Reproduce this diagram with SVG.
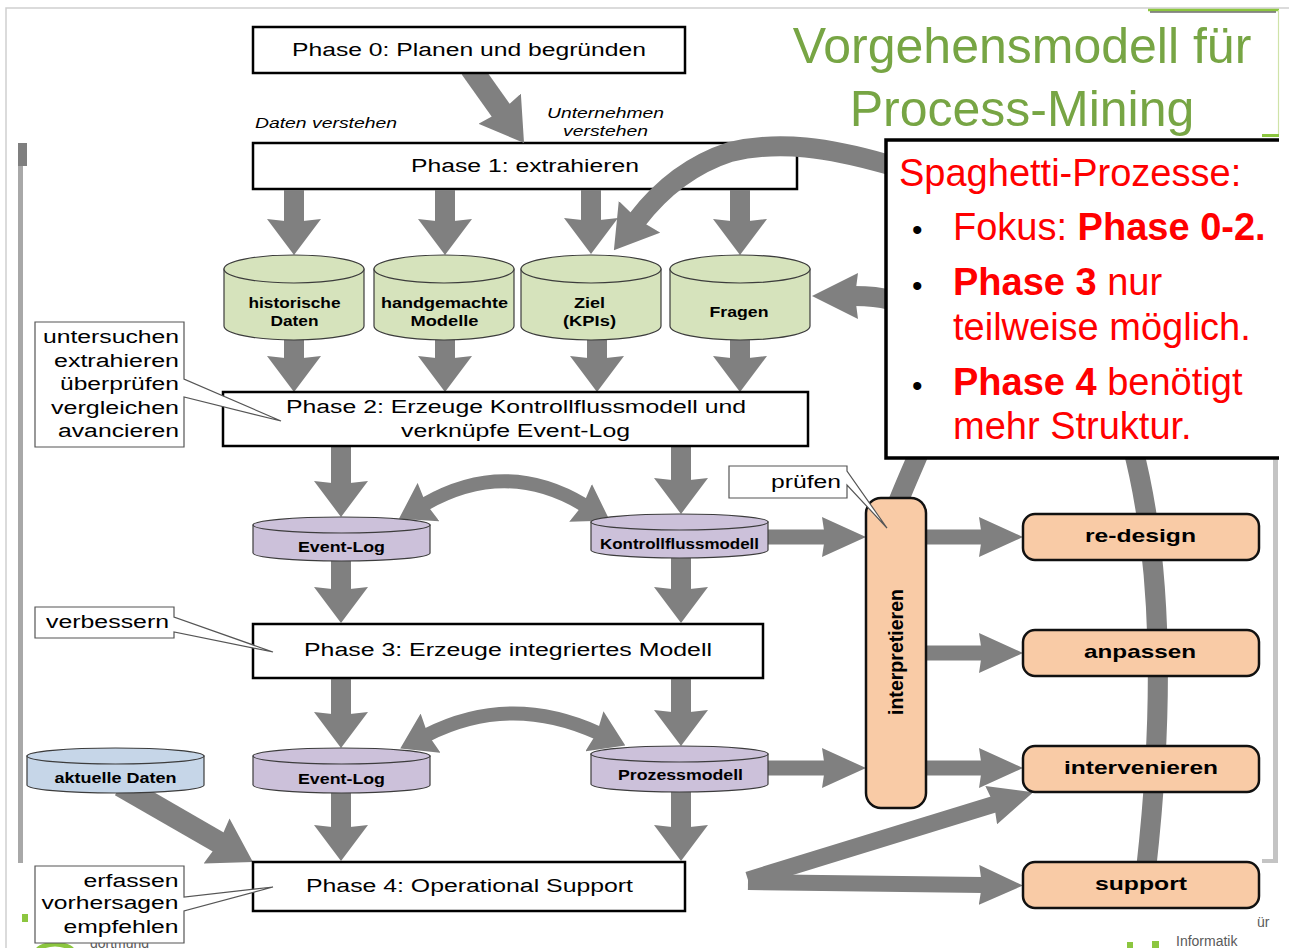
<svg xmlns="http://www.w3.org/2000/svg" width="1289" height="948" viewBox="0 0 1289 948">
  <style>
    text { font-family: "Liberation Sans", Arial, sans-serif; fill: #000; }
    .ph { font-size: 18px; }
    .cl { font-size: 15.5px; font-weight: bold; }
    .rb { font-size: 19px; font-weight: bold; }
    .co { font-size: 18px; }
    .it { font-size: 14.5px; font-style: italic; }
    .box { fill: #fff; stroke: #000; stroke-width: 2.5; }
    .act { fill: #f9cba6; stroke: #111; stroke-width: 2.5; }
    .cyl { stroke: #3c3c3c; stroke-width: 1.2; }
    .green { fill: #d6e3bc; }
    .lilac { fill: #ccc1da; }
    .blue { fill: #c6d6e8; }
    .note { fill: #fff; stroke: #555; stroke-width: 1.2; }
    .arr { fill: none; stroke: #808080; stroke-linecap: butt; }
    .red { fill: #ff0000; font-size: 38px; }
    .bullet { fill: #000; font-size: 30px; }
    .title { fill: #77a544; font-size: 50px; }
    .foot { fill: #5a5a5a; font-size: 14px; }
  </style>
  <defs>
    <marker id="av" markerUnits="userSpaceOnUse" markerWidth="36" markerHeight="54" viewBox="0 0 36 54" refX="4" refY="27" orient="auto">
      <path d="M0,0 L36,27 L0,54 L3,27 Z" fill="#808080"/>
    </marker>
    <marker id="ah" markerUnits="userSpaceOnUse" markerWidth="44" markerHeight="40" viewBox="0 0 44 40" refX="4" refY="20" orient="auto">
      <path d="M0,0 L44,20 L0,40 L3,20 Z" fill="#808080"/>
    </marker>
    <marker id="ad" markerUnits="userSpaceOnUse" markerWidth="42" markerHeight="52" viewBox="0 0 42 52" refX="4" refY="26" orient="auto">
      <path d="M0,0 L42,26 L0,52 L3,26 Z" fill="#808080"/>
    </marker>
    <marker id="ab" markerUnits="userSpaceOnUse" markerWidth="46" markerHeight="46" viewBox="0 0 46 46" refX="4" refY="23" orient="auto">
      <path d="M0,0 L46,23 L0,46 L3,23 Z" fill="#808080"/>
    </marker>
    <marker id="ac" markerUnits="userSpaceOnUse" markerWidth="34" markerHeight="44" viewBox="0 0 34 44" refX="4" refY="22" orient="auto-start-reverse">
      <path d="M0,0 L34,22 L0,44 L3,22 Z" fill="#808080"/>
    </marker>
  </defs>

  <rect width="1289" height="948" fill="#fff"/>

  <!-- page edge and figure frame -->
  <g id="frame">
    <path d="M6 948 V8 H1289" fill="none" stroke="#cfcfcf" stroke-width="1.5"/>
    <rect x="18" y="143" width="5" height="720" fill="#a8a8a8"/>
    <rect x="18" y="143" width="9" height="23" fill="#7f7f7f"/>
    <rect x="1273" y="458" width="5" height="405" fill="#c4c4c4"/>
    <rect x="1262" y="859" width="16" height="4" fill="#c4c4c4"/>
  </g>

  <!-- slide footer remnants -->
  <g id="footer">
    <rect x="22" y="914" width="6" height="8" fill="#8cc63f"/>
    <ellipse cx="55" cy="956" rx="20" ry="12" fill="none" stroke="#8cc63f" stroke-width="5"/>
    <text class="foot" x="90" y="947.5" font-size="9">dortmund</text>
    <text class="foot" x="1257" y="927" font-size="16">ür</text>
    <text class="foot" x="1176" y="946">Informatik</text>
    <rect x="1127" y="942" width="6" height="6" fill="#8cc63f"/>
    <rect x="1152" y="941" width="7" height="7" fill="#8cc63f"/>
  </g>

  <!-- Phase 1 sits below the return arc -->
  <g id="phase1">
    <rect class="box" x="253" y="143" width="544" height="46"/>
    <text class="ph" x="525" y="172" text-anchor="middle" textLength="228" lengthAdjust="spacingAndGlyphs">Phase 1: extrahieren</text>
  </g>

  <g id="connectors">
    <!-- Phase 0 to Phase 1 -->
    <line class="arr" x1="470.7" y1="68" x2="502" y2="112" stroke-width="22" marker-end="url(#ad)"/>
    <!-- Phase 1 to data stores -->
    <line class="arr" x1="294" y1="190" x2="294" y2="223" stroke-width="20" marker-end="url(#av)"/>
    <line class="arr" x1="445" y1="190" x2="445" y2="223" stroke-width="20" marker-end="url(#av)"/>
    <line class="arr" x1="591" y1="190" x2="591" y2="222" stroke-width="20" marker-end="url(#av)"/>
    <line class="arr" x1="740" y1="190" x2="740" y2="223" stroke-width="20" marker-end="url(#av)"/>
    <!-- data stores to Phase 2 -->
    <line class="arr" x1="294" y1="335" x2="294" y2="360" stroke-width="20" marker-end="url(#av)"/>
    <line class="arr" x1="445" y1="335" x2="445" y2="360" stroke-width="20" marker-end="url(#av)"/>
    <line class="arr" x1="597" y1="335" x2="597" y2="360" stroke-width="20" marker-end="url(#av)"/>
    <line class="arr" x1="740" y1="335" x2="740" y2="360" stroke-width="20" marker-end="url(#av)"/>
    <!-- Phase 2 outputs -->
    <line class="arr" x1="341" y1="447" x2="341" y2="485" stroke-width="20" marker-end="url(#av)"/>
    <line class="arr" x1="681" y1="447" x2="681" y2="482" stroke-width="20" marker-end="url(#av)"/>
    <path class="arr" d="M425 504 Q506 458 584 505" stroke-width="14" marker-start="url(#ac)" marker-end="url(#ac)"/>
    <!-- into Phase 3 -->
    <line class="arr" x1="341" y1="555" x2="341" y2="591" stroke-width="20" marker-end="url(#av)"/>
    <line class="arr" x1="681" y1="552" x2="681" y2="591" stroke-width="20" marker-end="url(#av)"/>
    <!-- Phase 3 outputs -->
    <line class="arr" x1="341" y1="679" x2="341" y2="716" stroke-width="20" marker-end="url(#av)"/>
    <line class="arr" x1="681" y1="679" x2="681" y2="714" stroke-width="20" marker-end="url(#av)"/>
    <path class="arr" d="M427 735 Q510 693 598 733" stroke-width="14" marker-start="url(#ac)" marker-end="url(#ac)"/>
    <!-- into Phase 4 -->
    <line class="arr" x1="120.4" y1="785.6" x2="220" y2="843" stroke-width="22" marker-end="url(#ad)"/>
    <line class="arr" x1="341" y1="788" x2="341" y2="829" stroke-width="20" marker-end="url(#av)"/>
    <line class="arr" x1="681" y1="785" x2="681" y2="829" stroke-width="20" marker-end="url(#av)"/>
    <!-- models to interpretation -->
    <line class="arr" x1="760" y1="537" x2="826" y2="537" stroke-width="15" marker-end="url(#ah)"/>
    <line class="arr" x1="760" y1="768" x2="826" y2="768" stroke-width="15" marker-end="url(#ah)"/>
    <!-- interpretation to actions -->
    <line class="arr" x1="920" y1="537" x2="983" y2="537" stroke-width="15" marker-end="url(#ah)"/>
    <line class="arr" x1="920" y1="653" x2="983" y2="653" stroke-width="15" marker-end="url(#ah)"/>
    <line class="arr" x1="920" y1="768" x2="983" y2="768" stroke-width="15" marker-end="url(#ah)"/>
    <!-- operational support outputs -->
    <line class="arr" x1="748" y1="882" x2="983" y2="885" stroke-width="16" marker-end="url(#ah)"/>
    <line class="arr" x1="748" y1="880" x2="995" y2="804" stroke-width="17" marker-end="url(#ah)"/>
    <!-- feedback loops -->
    <path class="arr" d="M1146 870 C1172 640 1160 420 1060 290 C1000 215 940 180 886 164 C830 148 780 140 730 152 C690 165 660 190 637 220" stroke-width="20" marker-end="url(#ad)"/>
    <path class="arr" d="M897 505 C930 420 990 330 890 300 C880 297 866 296 854 296" stroke-width="20" marker-end="url(#ab)"/>
  </g>

  <g id="phase0">
    <rect class="box" x="253" y="27" width="432" height="46"/>
    <text class="ph" x="469" y="56" text-anchor="middle" textLength="354" lengthAdjust="spacingAndGlyphs">Phase 0: Planen und begründen</text>
  </g>

  <g id="labels-understand">
    <text class="it" x="255" y="128" textLength="142" lengthAdjust="spacingAndGlyphs">Daten verstehen</text>
    <text class="it" x="605.5" y="118" text-anchor="middle" textLength="117" lengthAdjust="spacingAndGlyphs">Unternehmen</text>
    <text class="it" x="605.5" y="136" text-anchor="middle" textLength="85" lengthAdjust="spacingAndGlyphs">verstehen</text>
  </g>

  <!-- input data stores -->
  <g id="store-historische-daten">
    <path class="cyl green" d="M224 269 V326 A70 14 0 0 0 364 326 V269 Z"/>
    <ellipse class="cyl green" cx="294" cy="269" rx="70" ry="14"/>
    <text class="cl" x="294.5" y="308" text-anchor="middle" textLength="92" lengthAdjust="spacingAndGlyphs">historische</text>
    <text class="cl" x="294.5" y="326" text-anchor="middle" textLength="48" lengthAdjust="spacingAndGlyphs">Daten</text>
  </g>
  <g id="store-modelle">
    <path class="cyl green" d="M374 269 V326 A70 14 0 0 0 514 326 V269 Z"/>
    <ellipse class="cyl green" cx="444" cy="269" rx="70" ry="14"/>
    <text class="cl" x="444.5" y="308" text-anchor="middle" textLength="127" lengthAdjust="spacingAndGlyphs">handgemachte</text>
    <text class="cl" x="444.5" y="326" text-anchor="middle" textLength="68" lengthAdjust="spacingAndGlyphs">Modelle</text>
  </g>
  <g id="store-ziel">
    <path class="cyl green" d="M521 269 V326 A70 14 0 0 0 661 326 V269 Z"/>
    <ellipse class="cyl green" cx="591" cy="269" rx="70" ry="14"/>
    <text class="cl" x="589.5" y="308" text-anchor="middle" textLength="31" lengthAdjust="spacingAndGlyphs">Ziel</text>
    <text class="cl" x="589.5" y="326" text-anchor="middle" textLength="53" lengthAdjust="spacingAndGlyphs">(KPIs)</text>
  </g>
  <g id="store-fragen">
    <path class="cyl green" d="M670 269 V326 A70 14 0 0 0 810 326 V269 Z"/>
    <ellipse class="cyl green" cx="740" cy="269" rx="70" ry="14"/>
    <text class="cl" x="739" y="317" text-anchor="middle" textLength="59" lengthAdjust="spacingAndGlyphs">Fragen</text>
  </g>

  <g id="phase2">
    <rect class="box" x="223" y="392" width="585" height="54"/>
    <text class="ph" x="516" y="413" text-anchor="middle" textLength="460" lengthAdjust="spacingAndGlyphs">Phase 2: Erzeuge Kontrollflussmodell und</text>
    <text class="ph" x="515.5" y="437" text-anchor="middle" textLength="229" lengthAdjust="spacingAndGlyphs">verknüpfe Event-Log</text>
  </g>

  <g id="store-event-log-1">
    <path class="cyl lilac" d="M253 525 V553 A88.5 8 0 0 0 430 553 V525 Z"/>
    <ellipse class="cyl lilac" cx="341.5" cy="525" rx="88.5" ry="8"/>
    <text class="cl" x="341.5" y="552" text-anchor="middle" textLength="87" lengthAdjust="spacingAndGlyphs">Event-Log</text>
  </g>
  <g id="store-kontrollflussmodell">
    <path class="cyl lilac" d="M591 522 V550 A88.5 8 0 0 0 768 550 V522 Z"/>
    <ellipse class="cyl lilac" cx="679.5" cy="522" rx="88.5" ry="8"/>
    <text class="cl" x="679.5" y="549" text-anchor="middle" textLength="159" lengthAdjust="spacingAndGlyphs">Kontrollflussmodell</text>
  </g>

  <g id="phase3">
    <rect class="box" x="253" y="624" width="510" height="54"/>
    <text class="ph" x="508" y="656" text-anchor="middle" textLength="408" lengthAdjust="spacingAndGlyphs">Phase 3: Erzeuge integriertes Modell</text>
  </g>

  <g id="store-aktuelle-daten">
    <path class="cyl blue" d="M27 756 V785 A88.5 8 0 0 0 204 785 V756 Z"/>
    <ellipse class="cyl blue" cx="115.5" cy="756" rx="88.5" ry="8"/>
    <text class="cl" x="115.5" y="783" text-anchor="middle" textLength="122" lengthAdjust="spacingAndGlyphs">aktuelle Daten</text>
  </g>
  <g id="store-event-log-2">
    <path class="cyl lilac" d="M253 756 V785 A88.5 8 0 0 0 430 785 V756 Z"/>
    <ellipse class="cyl lilac" cx="341.5" cy="756" rx="88.5" ry="8"/>
    <text class="cl" x="341.5" y="783.5" text-anchor="middle" textLength="87" lengthAdjust="spacingAndGlyphs">Event-Log</text>
  </g>
  <g id="store-prozessmodell">
    <path class="cyl lilac" d="M591 754 V784 A88.5 8 0 0 0 768 784 V754 Z"/>
    <ellipse class="cyl lilac" cx="679.5" cy="754" rx="88.5" ry="8"/>
    <text class="cl" x="680.5" y="780" text-anchor="middle" textLength="125" lengthAdjust="spacingAndGlyphs">Prozessmodell</text>
  </g>

  <g id="phase4">
    <rect class="box" x="253" y="862" width="432" height="49"/>
    <text class="ph" x="469.5" y="892" text-anchor="middle" textLength="327" lengthAdjust="spacingAndGlyphs">Phase 4: Operational Support</text>
  </g>

  <g id="interpretieren">
    <rect class="act" x="866" y="498" width="60" height="310" rx="15"/>
    <text transform="translate(903 652) rotate(-90)" font-size="21" font-weight="bold" text-anchor="middle" textLength="126" lengthAdjust="spacingAndGlyphs">interpretieren</text>
  </g>

  <g id="re-design">
    <rect class="act" x="1023" y="514" width="236" height="46" rx="12"/>
    <text class="rb" x="1140.5" y="542" text-anchor="middle" textLength="111" lengthAdjust="spacingAndGlyphs">re-design</text>
  </g>
  <g id="anpassen">
    <rect class="act" x="1023" y="630" width="236" height="46" rx="12"/>
    <text class="rb" x="1140" y="658" text-anchor="middle" textLength="112" lengthAdjust="spacingAndGlyphs">anpassen</text>
  </g>
  <g id="intervenieren">
    <rect class="act" x="1023" y="746" width="236" height="46" rx="12"/>
    <text class="rb" x="1141" y="774" text-anchor="middle" textLength="154" lengthAdjust="spacingAndGlyphs">intervenieren</text>
  </g>
  <g id="support">
    <rect class="act" x="1023" y="862" width="236" height="46" rx="12"/>
    <text class="rb" x="1141" y="890" text-anchor="middle" textLength="92" lengthAdjust="spacingAndGlyphs">support</text>
  </g>

  <!-- callouts -->
  <g id="note-phase2">
    <path class="note" d="M35 322 H184 V379 L281 421 L184 397 V447 H35 Z"/>
    <text class="co" x="179" y="343" text-anchor="end" textLength="136" lengthAdjust="spacingAndGlyphs">untersuchen</text>
    <text class="co" x="179" y="366.5" text-anchor="end" textLength="125" lengthAdjust="spacingAndGlyphs">extrahieren</text>
    <text class="co" x="179" y="390" text-anchor="end" textLength="119" lengthAdjust="spacingAndGlyphs">überprüfen</text>
    <text class="co" x="179" y="413.5" text-anchor="end" textLength="128" lengthAdjust="spacingAndGlyphs">vergleichen</text>
    <text class="co" x="179" y="437" text-anchor="end" textLength="121" lengthAdjust="spacingAndGlyphs">avancieren</text>
  </g>
  <g id="note-phase3">
    <path class="note" d="M35 607 H174 V617 L273 652 L174 632 V638 H35 Z"/>
    <text class="co" x="169" y="628" text-anchor="end" textLength="123" lengthAdjust="spacingAndGlyphs">verbessern</text>
  </g>
  <g id="note-phase4">
    <path class="note" d="M35 866 H184 V897 L273 887 L184 911 V943 H35 Z"/>
    <text class="co" x="178.5" y="887" text-anchor="end" textLength="95" lengthAdjust="spacingAndGlyphs">erfassen</text>
    <text class="co" x="178.5" y="908.5" text-anchor="end" textLength="137" lengthAdjust="spacingAndGlyphs">vorhersagen</text>
    <text class="co" x="178.5" y="932.5" text-anchor="end" textLength="115" lengthAdjust="spacingAndGlyphs">empfehlen</text>
  </g>
  <g id="note-pruefen">
    <path class="note" d="M729 466 H847 V471 L887 528 L847 485 V498 H729 Z"/>
    <text class="co" x="841" y="488" text-anchor="end" textLength="70" lengthAdjust="spacingAndGlyphs">prüfen</text>
  </g>

  <!-- remark box -->
  <g id="spaghetti">
    <rect x="886" y="140" width="393" height="318" fill="#fff"/>
    <path d="M1279 140 H886 V458 H1279" fill="none" stroke="#000" stroke-width="3.5"/>
    <text class="red" x="899" y="186">Spaghetti-Prozesse:</text>
    <text class="bullet" x="912" y="240">•</text>
    <text class="red" x="953" y="240">Fokus: <tspan font-weight="bold">Phase 0-2.</tspan></text>
    <text class="bullet" x="912" y="296">•</text>
    <text class="red" x="953" y="295"><tspan font-weight="bold">Phase 3</tspan> nur</text>
    <text class="red" x="953" y="340">teilweise möglich.</text>
    <text class="bullet" x="912" y="396">•</text>
    <text class="red" x="953" y="395"><tspan font-weight="bold">Phase 4</tspan> benötigt</text>
    <text class="red" x="953" y="439">mehr Struktur.</text>
  </g>

  <g id="title">
    <line x1="1148" y1="10" x2="1279" y2="10" stroke="#8cc63f" stroke-width="2.5"/>
    <line x1="1150" y1="12" x2="1276" y2="12" stroke="#222" stroke-width="1.2"/>
    <line x1="1278.5" y1="10" x2="1278.5" y2="135" stroke="#cfe3a8" stroke-width="1.2"/>
    <rect x="1262" y="134" width="17" height="3" fill="#8cc63f"/>
    <text class="title" x="1022" y="63" text-anchor="middle">Vorgehensmodell für</text>
    <text class="title" x="1022" y="126" text-anchor="middle">Process-Mining</text>
  </g>
</svg>
